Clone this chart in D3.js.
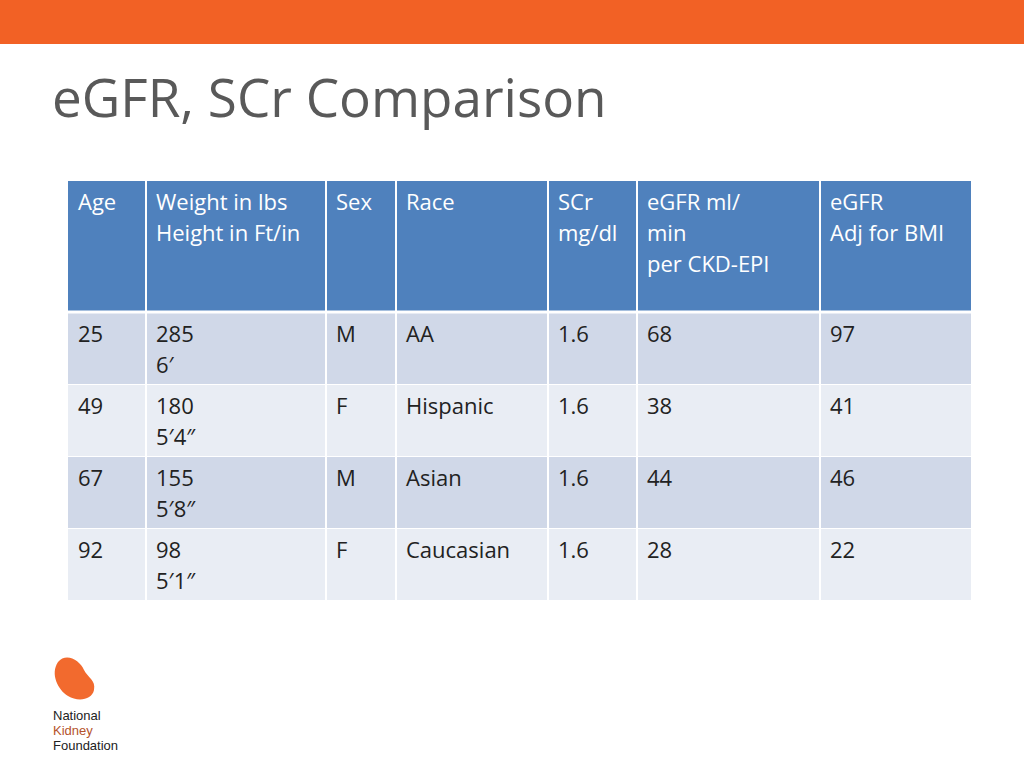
<!DOCTYPE html>
<html><head><meta charset="utf-8">
<script src="https://cdn.jsdelivr.net/npm/d3@7"></script>
<style>body{margin:0;background:#fff}svg{display:block}</style>
</head><body>
<script>
// table contents
const headers = [["Age"], ["Weight in lbs", "Height in Ft/in"], ["Sex"], ["Race"], ["SCr", "mg/dl"], ["eGFR ml/", "min", "per CKD-EPI"], ["eGFR", "Adj for BMI"]];
const ages = ["25", "49", "67", "92"];
const weights = ["285", "180", "155", "98"];
const heights = ["6\u2032", "5\u20324\u2033", "5\u20328\u2033", "5\u20321\u2033"];
const sexes = ["M", "F", "M", "F"];
const races = ["AA", "Hispanic", "Asian", "Caucasian"];
const scr = ["1.6", "1.6", "1.6", "1.6"];
const egfr = ["68", "38", "44", "28"];
const egfrBmi = ["97", "41", "46", "22"];

const colEdges = [68, 146, 326, 396, 548, 637, 820, 971];
const rows = ages.map((a, i) => [[a], [weights[i], heights[i]], [sexes[i]], [races[i]], [scr[i]], [egfr[i]], [egfrBmi[i]]]);

const svg = d3.select("body").append("svg").attr("width", 1024).attr("height", 768);
svg.append("rect").attr("width", 1024).attr("height", 44).attr("fill", "#F26125");
svg.append("text").attr("x", 52).attr("y", 117).attr("font-family", "Open Sans")
    .attr("font-size", 53).attr("fill", "#595959").text("eGFR, SCr Comparison");

const font = "Open Sans";
const drawRow = (cells, y0, h, fill, color) => {
    cells.forEach((lines, c) => {
        const x0 = colEdges[c], x1 = colEdges[c + 1];
        svg.append("rect").attr("x", x0).attr("y", y0).attr("width", x1 - x0).attr("height", h).attr("fill", fill);
        const t = svg.append("text").attr("font-family", font).attr("font-size", 22).attr("fill", color);
        lines.forEach((l, k) => t.append("tspan").attr("x", x0 + 10).attr("y", y0 + 29 + k * 31).text(l));
    });
};
drawRow(headers, 181, 130, "#4F81BD", "#fff");
rows.forEach((r, i) => drawRow(r, 313 + i * 72, 71, i % 2 ? "#E9EDF4" : "#D0D8E8", "#222"));
// white grid lines
colEdges.slice(1, -1).forEach(x => svg.append("line").attr("x1", x).attr("x2", x).attr("y1", 181).attr("y2", 601)
    .attr("stroke", "#fff").attr("stroke-width", 2));
svg.append("line").attr("x1", 68).attr("x2", 971).attr("y1", 312).attr("y2", 312).attr("stroke", "#fff").attr("stroke-width", 3);

// logo
svg.append("path").attr("d", "M58,662 C66,652 80,660 84,670 C88,678 96,680 94,690 C92,700 78,702 68,696 C58,690 50,674 58,662 Z").attr("fill", "#F26A2E");
[["National", "#222", 720], ["Kidney", "#B5532B", 735], ["Foundation", "#222", 750]].forEach(([s, c, y]) =>
    svg.append("text").attr("x", 53).attr("y", y).attr("font-family", "Liberation Sans").attr("font-size", 13).attr("fill", c).text(s));
</script>
</body></html>
